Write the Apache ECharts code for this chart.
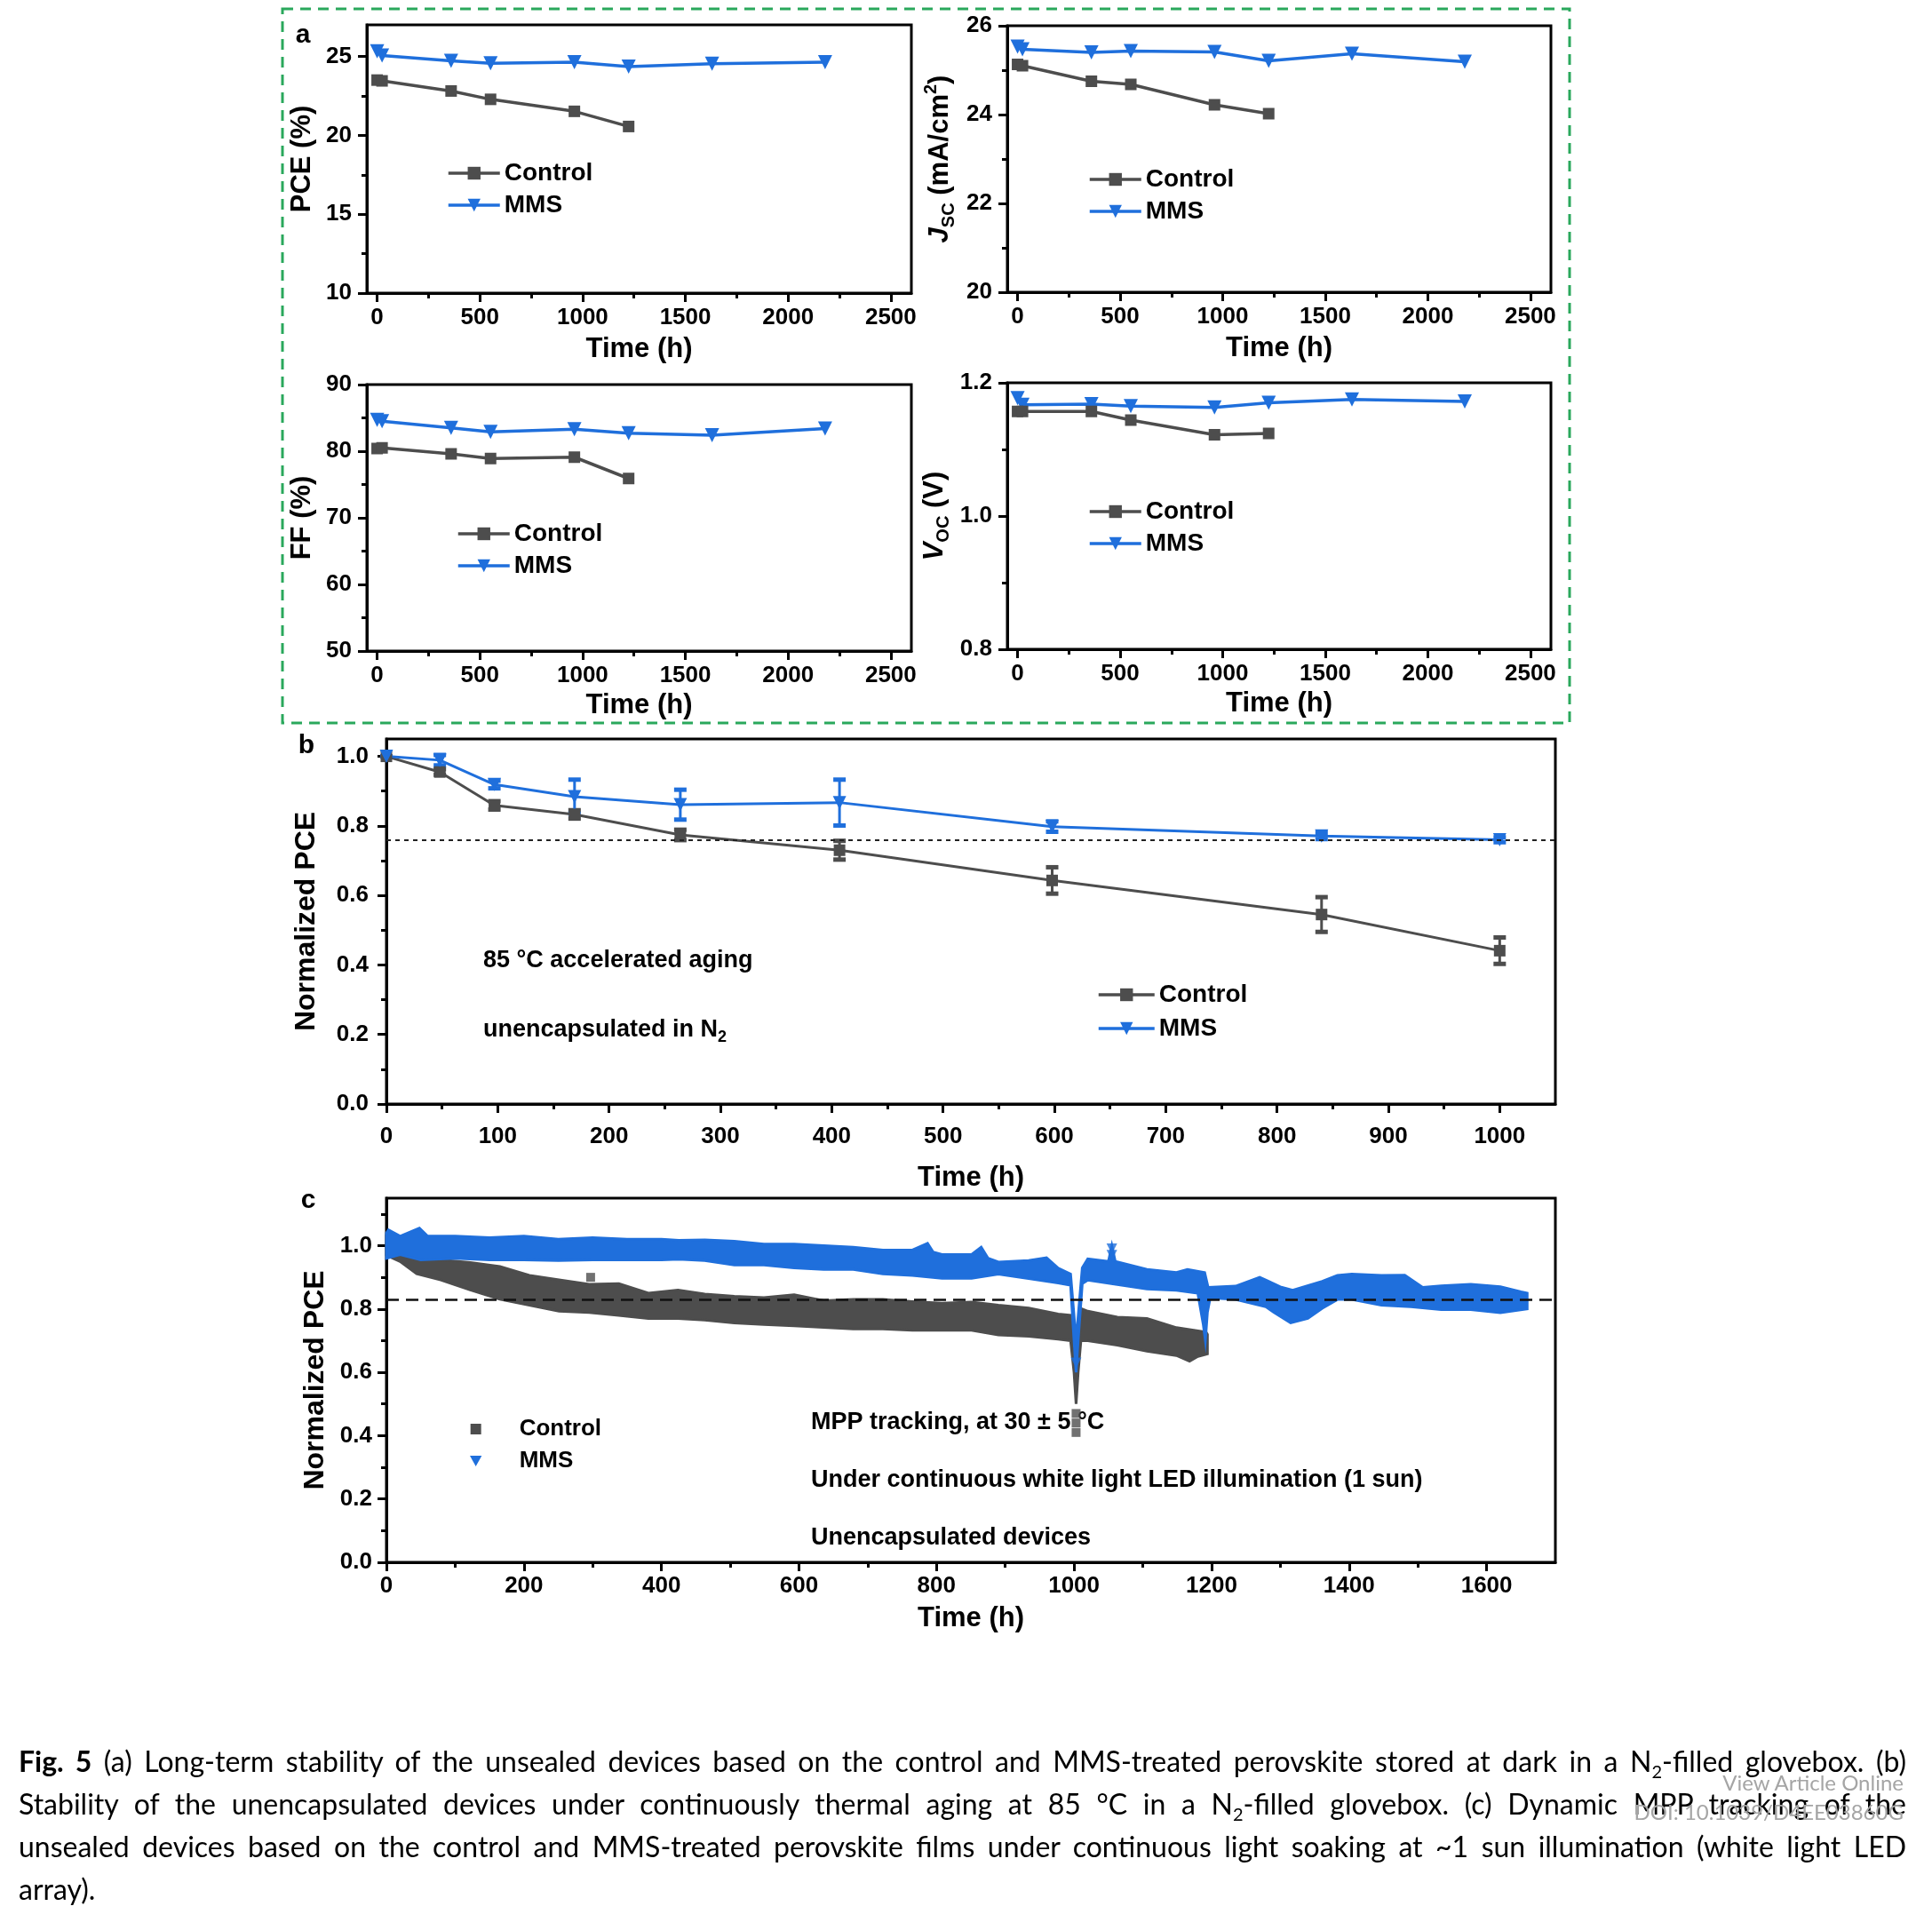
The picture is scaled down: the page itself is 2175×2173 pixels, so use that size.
<!DOCTYPE html>
<html>
<head>
<meta charset="utf-8">
<script src="https://cdn.jsdelivr.net/npm/echarts@6/dist/echarts.min.js"></script>
<style>
html,body{margin:0;padding:0;background:#fff;}
#chart{position:absolute;left:0;top:0;width:2175px;height:2173px;}
#cap{position:absolute;left:21px;top:1959px;width:2125px;font-family:'Lato','Open Sans',sans-serif;font-size:32px;line-height:48px;color:#000;}
#cap .j{text-align:justify;text-align-last:justify;white-space:nowrap;}
#cap sub{font-size:20px;line-height:0;}
.wm{position:absolute;right:32px;font-family:'Lato','Open Sans',sans-serif;font-size:24px;color:#a5a5a5;}
</style>
</head>
<body>
<div id="chart"></div>
<div id="cap">
<div class="j"><b>Fig. 5</b> (a) Long-term stability of the unsealed devices based on the control and MMS-treated perovskite stored at dark in a N<sub>2</sub>-filled glovebox. (b)</div>
<div class="j">Stability of the unencapsulated devices under continuously thermal aging at 85 °C in a N<sub>2</sub>-filled glovebox. (c) Dynamic MPP tracking of the</div>
<div class="j">unsealed devices based on the control and MMS-treated perovskite films under continuous light soaking at ~1 sun illumination (white light LED</div>
<div>array).</div>
</div>
<div class="wm" style="top:1992px;">View Article Online</div>
<div class="wm" style="top:2025px;">DOI: 10.1039/D4EE03860G</div>
<script>
// ---------- Panel a data ----------
const aTime = [0, 24, 360, 552, 960, 1224, 1630, 2180];
const pceControl = [23.50, 23.45, 22.81, 22.28, 21.52, 20.56];
const pceMMS = [25.33, 25.06, 24.72, 24.57, 24.63, 24.35, 24.54, 24.63];
const jscControl = [25.13, 25.10, 24.75, 24.68, 24.22, 24.02];
const jscMMS = [25.53, 25.47, 25.40, 25.43, 25.41, 25.21, 25.37, 25.19];
const ffControl = [80.4, 80.5, 79.6, 78.9, 79.1, 75.9];
const ffMMS = [84.7, 84.5, 83.5, 82.9, 83.3, 82.7, 82.4, 83.4];
const vocControl = [1.157, 1.157, 1.157, 1.144, 1.122, 1.124];
const vocMMS = [1.177, 1.167, 1.168, 1.165, 1.163, 1.170, 1.175, 1.172];
const aTimeTicks = [0, 500, 1000, 1500, 2000, 2500];
const aTimeMinor = [250, 750, 1250, 1750, 2250];
const pceTicks = [10, 15, 20, 25], pceMinor = [12.5, 17.5, 22.5];
const jscTicks = [20, 22, 24, 26], jscMinor = [21, 23, 25];
const ffTicks = [50, 60, 70, 80, 90], ffMinor = [55, 65, 75, 85];
const vocTicks = [0.8, 1.0, 1.2], vocMinor = [0.9, 1.1];

// ---------- Panel b data ----------
const bTime = [0, 48, 97, 169, 264, 407, 598, 840, 1000];
const bControl = [1.0, 0.955, 0.859, 0.833, 0.774, 0.730, 0.643, 0.545, 0.441];
const bControlErr = [0, 0.008, 0.012, 0.012, 0.015, 0.027, 0.038, 0.050, 0.038];
const bMMS = [1.0, 0.989, 0.919, 0.884, 0.861, 0.867, 0.798, 0.771, 0.760];
const bMMSErr = [0, 0.015, 0.011, 0.049, 0.043, 0.066, 0.015, 0.009, 0.007];
const bRef = 0.76;
const bTimeTicks = [0, 100, 200, 300, 400, 500, 600, 700, 800, 900, 1000];
const bTimeMinor = [50, 150, 250, 350, 450, 550, 650, 750, 850, 950];
const normTicks = [0, 0.2, 0.4, 0.6, 0.8, 1.0], normMinor = [0.1, 0.3, 0.5, 0.7, 0.9];

// ---------- Panel c data (envelopes of the dense MPP tracking traces) ----------
const cMMSUpper = [[0,1.04],[3,1.05],[20,1.03],[48,1.055],[60,1.03],[100,1.03],[150,1.025],[200,1.03],[250,1.02],[300,1.025],[350,1.02],[400,1.02],[425,1.017],[463,1.018],[506,1.014],[549,1.005],[593,1.005],[636,1.0],[679,0.995],[722,0.986],[765,0.986],[787,1.007],[795,0.98],[808,0.972],[851,0.972],[865,0.995],[875,0.96],[890,0.948],[934,0.953],[960,0.962],[977,0.929],[995,0.91],[1003,0.70],[1012,0.93],[1020,0.958],[1050,0.95],[1055,1.0],[1060,0.95],[1106,0.925],[1149,0.915],[1165,0.925],[1190,0.915],[1195,0.868],[1235,0.872],[1270,0.90],[1280,0.89],[1300,0.87],[1318,0.859],[1361,0.887],[1383,0.906],[1404,0.91],[1447,0.906],[1481,0.907],[1507,0.868],[1534,0.873],[1577,0.878],[1620,0.87],[1650,0.854],[1659,0.85]];
const cMMSLower = [[0,0.96],[20,0.972],[50,0.955],[100,0.96],[150,0.955],[200,0.955],[250,0.953],[300,0.955],[350,0.955],[400,0.955],[425,0.957],[463,0.953],[506,0.939],[549,0.939],[593,0.93],[636,0.925],[679,0.925],[722,0.911],[765,0.906],[808,0.897],[851,0.897],[890,0.91],[934,0.896],[977,0.882],[995,0.875],[1000,0.70],[1003,0.60],[1006,0.70],[1012,0.88],[1020,0.891],[1063,0.877],[1106,0.863],[1149,0.859],[1180,0.85],[1188,0.75],[1191,0.70],[1194,0.79],[1198,0.835],[1235,0.83],[1279,0.807],[1290,0.79],[1315,0.756],[1340,0.77],[1361,0.802],[1383,0.83],[1404,0.83],[1447,0.812],[1490,0.807],[1534,0.798],[1577,0.798],[1620,0.788],[1659,0.80]];
const cControlUpper = [[0,1.02],[10,0.98],[20,0.975],[44,0.965],[79,0.955],[122,0.947],[165,0.934],[208,0.906],[251,0.892],[295,0.878],[338,0.88],[381,0.85],[424,0.86],[463,0.847],[506,0.84],[549,0.836],[593,0.845],[636,0.826],[679,0.83],[722,0.83],[765,0.823],[808,0.818],[851,0.822],[890,0.812],[934,0.803],[977,0.784],[995,0.78],[1000,0.70],[1003,0.52],[1007,0.70],[1012,0.80],[1020,0.793],[1063,0.774],[1106,0.77],[1149,0.741],[1192,0.727],[1194,0.72]];
const cControlLower = [[0,0.97],[20,0.95],[44,0.911],[79,0.892],[122,0.86],[165,0.831],[208,0.812],[251,0.793],[295,0.789],[338,0.78],[381,0.77],[424,0.77],[463,0.765],[506,0.756],[549,0.751],[593,0.747],[636,0.742],[679,0.737],[722,0.737],[765,0.733],[851,0.733],[890,0.718],[934,0.714],[977,0.705],[995,0.70],[1000,0.60],[1003,0.50],[1006,0.60],[1010,0.70],[1020,0.70],[1063,0.686],[1106,0.667],[1149,0.653],[1168,0.635],[1180,0.65],[1194,0.658]];
const cControlOutliers = [[297,0.90],[1003,0.47],[1003,0.44],[1003,0.41]];
const cMMSOutliers = [[1055,0.99],[1055,0.97],[1003,0.63]];
const cRef = 0.828;
const cTimeTicks = [0, 200, 400, 600, 800, 1000, 1200, 1400, 1600];
const cTimeMinor = [100, 300, 500, 700, 900, 1100, 1300, 1500];
const cNormMinor = [0.1, 0.3, 0.5, 0.7, 0.9, 1.1];

// ---------- styles ----------
const GRAY = '#4d4d4d', BLUE = '#1f6fdc';
const F = "'Liberation Sans', Arial, sans-serif";
const grids = [], xAxes = [], yAxes = [], series = [], legends = [];

function addGrid(left, top, width, height) {
  grids.push({left, top, width, height, show: true, borderColor: '#000', borderWidth: 3, backgroundColor: 'transparent'});
  return grids.length - 1;
}
function addAxis(kind, gi, min, max, ticks, minor, o) {
  const arr = kind === 'x' ? xAxes : yAxes;
  const pos = kind === 'x' ? 'bottom' : 'left';
  arr.push({
    type: 'value', gridIndex: gi, min, max, position: pos,
    axisLine: {show: true, onZero: false, lineStyle: {color: '#000', width: 3}},
    axisTick: {show: true, customValues: ticks, length: 10, lineStyle: {color: '#000', width: 3}},
    axisLabel: {show: true, customValues: ticks, formatter: o.fmt, fontFamily: F, fontWeight: 'bold', fontSize: o.fs || 26, color: '#000', margin: o.margin},
    splitLine: {show: false},
    name: o.name, nameLocation: 'middle', nameGap: o.gap, nameRotate: kind === 'y' ? 90 : 0,
    nameTextStyle: {fontFamily: F, fontWeight: 'bold', fontSize: o.nfs || 31, color: '#000', rich: o.rich}
  });
  const idx = arr.length - 1;
  arr.push({
    type: 'value', gridIndex: gi, min, max, position: pos,
    axisLine: {show: false, onZero: false},
    axisTick: {show: true, customValues: minor, length: 6, lineStyle: {color: '#000', width: 3}},
    axisLabel: {show: false}, splitLine: {show: false}
  });
  return idx;
}
const zip = (xs, ys) => ys.map((v, i) => [xs[i], v]);
function lineSeries(name, xs, ys, color, xi, yi, sym, size, lw) {
  return {
    type: 'line', name, xAxisIndex: xi, yAxisIndex: yi, data: zip(xs, ys),
    symbol: sym === 'tri' ? 'triangle' : 'rect', symbolRotate: sym === 'tri' ? 180 : 0,
    symbolSize: size, showAllSymbol: true,
    lineStyle: {color, width: lw}, itemStyle: {color}, z: 3
  };
}
const richSub = {
  i: {fontFamily: F, fontWeight: 'bold', fontStyle: 'italic', fontSize: 31, lineHeight: 40, color: '#000'},
  s: {fontFamily: F, fontWeight: 'bold', fontSize: 20, lineHeight: 20, verticalAlign: 'bottom', color: '#000'},
  p: {fontFamily: F, fontWeight: 'bold', fontSize: 20, lineHeight: 20, verticalAlign: 'top', color: '#000'},
  n: {fontFamily: F, fontWeight: 'bold', fontSize: 31, lineHeight: 40, color: '#000'}
};
function legendAt(left, top, iw, gap) {
  legends.push({
    left, top, orient: 'vertical', itemWidth: iw || 58, itemHeight: 18, itemGap: gap == null ? 8 : gap,
    selectedMode: false,
    data: [
      {name: 'Control', itemStyle: {color: GRAY}, lineStyle: {color: GRAY, width: 3.5}},
      {name: 'MMS', itemStyle: {color: BLUE}, lineStyle: {color: BLUE, width: 3.5}}
    ],
    lineStyle: {width: 3.5},
    textStyle: {fontFamily: F, fontWeight: 'bold', fontSize: 28, color: '#000', lineHeight: 28}
  });
}
const f1 = v => v.toFixed(1);
const f0 = v => String(v);

// ---------- Panel a ----------
function panelA(left, top, w, h, ymin, ymax, yt, ym, yname, yrich, ygap, cData, mData, legLeft, legTop, xgap) {
  const gi = addGrid(left, top, w, h);
  const xi = addAxis('x', gi, -50, 2600, aTimeTicks, aTimeMinor, {fmt: f0, margin: 15, name: 'Time (h)', gap: xgap});
  const yi = addAxis('y', gi, ymin, ymax, yt, ym, {fmt: ymax < 2 ? f1 : f0, margin: 17, name: yname, gap: ygap, rich: yrich});
  series.push(lineSeries('MMS', aTime, mData, BLUE, xi, yi, 'tri', 16, 3.5));
  series.push(lineSeries('Control', aTime, cData, GRAY, xi, yi, 'rect', 13, 3.5));
  legendAt(legLeft, legTop);
}
panelA(413, 28, 613, 302, 10, 27, pceTicks, pceMinor, 'PCE (%)', null, 57, pceControl, pceMMS, 498, 176, 48);
panelA(1134, 29, 612, 300, 20, 26, jscTicks, jscMinor, '{i|J}{s|SC}{n| (mA/cm}{p|2}{n|)}', richSub, 56, jscControl, jscMMS, 1220, 183, 48);
panelA(413, 433, 613, 300, 50, 90, ffTicks, ffMinor, 'FF (%)', null, 57, ffControl, ffMMS, 509, 582, 46);
panelA(1134, 431, 612, 300, 0.8, 1.2, vocTicks, vocMinor, '{i|V}{s|OC}{n| (V)}', richSub, 62, vocControl, vocMMS, 1220, 557, 46);

// ---------- Panel b ----------
(function () {
  const gi = addGrid(435, 832, 1316, 411);
  const xi = addAxis('x', gi, 0, 1050, bTimeTicks, bTimeMinor, {fmt: f0, margin: 24, name: 'Time (h)', gap: 68});
  const yi = addAxis('y', gi, 0, 1.05, normTicks, normMinor, {fmt: f1, margin: 20, name: 'Normalized PCE', gap: 74, nfs: 32});
  function errSeries(name, ys, errs, color) {
    return {
      type: 'custom', name, xAxisIndex: xi, yAxisIndex: yi, z: 2,
      data: bTime.map((t, i) => [t, ys[i] - errs[i], ys[i] + errs[i]]),
      encode: {x: 0, y: [1, 2]},
      renderItem: (params, api) => {
        const lo = api.coord([api.value(0), api.value(1)]);
        const hi = api.coord([api.value(0), api.value(2)]);
        const w = 7;
        return {type: 'group', children: [
          {type: 'line', shape: {x1: lo[0], y1: lo[1], x2: hi[0], y2: hi[1]}, style: {stroke: color, lineWidth: 3}},
          {type: 'line', shape: {x1: lo[0] - w, y1: lo[1], x2: lo[0] + w, y2: lo[1]}, style: {stroke: color, lineWidth: 5}},
          {type: 'line', shape: {x1: hi[0] - w, y1: hi[1], x2: hi[0] + w, y2: hi[1]}, style: {stroke: color, lineWidth: 5}}
        ]};
      }
    };
  }
  series.push(errSeries('Control err', bControl, bControlErr, GRAY));
  series.push(errSeries('MMS err', bMMS, bMMSErr, BLUE));
  const sc = lineSeries('Control', bTime, bControl, GRAY, xi, yi, 'rect', 13, 3);
  series.push(sc);
  const sm = lineSeries('MMS', bTime, bMMS, BLUE, xi, yi, 'tri', 15, 3);
  sm.markLine = {silent: true, symbol: 'none', label: {show: false}, animation: false,
    lineStyle: {type: [5, 5], color: '#222', width: 2}, data: [{yAxis: bRef}]};
  series.push(sm);
  legendAt(1230, 1101, 63, 10);
})();

// ---------- Panel c ----------
(function () {
  const gi = addGrid(435, 1349, 1316, 410);
  const xi = addAxis('x', gi, 0, 1700, cTimeTicks, cTimeMinor, {fmt: f0, margin: 14, name: 'Time (h)', gap: 48});
  const yi = addAxis('y', gi, 0, 1.15, normTicks, cNormMinor, {fmt: f1, margin: 16, name: 'Normalized PCE', gap: 64, nfs: 32});
  function band(name, upper, lower, color, z) {
    return {
      type: 'custom', name, xAxisIndex: xi, yAxisIndex: yi, z, itemStyle: {color},
      data: [[upper[0][0], upper[0][1]]],
      renderItem: (params, api) => {
        const pts = upper.map(p => api.coord(p)).concat(lower.slice().reverse().map(p => api.coord(p)));
        return {type: 'polygon', shape: {points: pts}, style: {fill: color, stroke: color, lineWidth: 3, lineJoin: 'miter'}};
      }
    };
  }
  series.push(band('Control ', cControlUpper, cControlLower, GRAY, 2));
  series.push({type: 'scatter', name: 'Control ', xAxisIndex: xi, yAxisIndex: yi, data: cControlOutliers,
    symbol: 'rect', symbolSize: 10, itemStyle: {color: GRAY}, z: 2});
  series.push(band('MMS ', cMMSUpper, cMMSLower, BLUE, 3));
  series.push({type: 'scatter', name: 'MMS ', xAxisIndex: xi, yAxisIndex: yi, data: cMMSOutliers,
    symbol: 'triangle', symbolRotate: 180, symbolSize: 12, itemStyle: {color: BLUE}, z: 3,
    markLine: {silent: true, symbol: 'none', label: {show: false}, animation: false, z: 10,
      lineStyle: {type: [14, 8], color: '#111', width: 2.5}, data: [{yAxis: cRef}]}});
  legends.push({
    left: 524, top: 1591, orient: 'vertical', itemWidth: 40, itemHeight: 12, itemGap: 10, selectedMode: false,
    data: [
      {name: 'Control ', icon: 'path://M0,0L10,0L10,10L0,10Z', itemStyle: {color: GRAY}},
      {name: 'MMS ', icon: 'path://M0,0L10,0L5,9Z', itemStyle: {color: BLUE}}
    ],
    textStyle: {fontFamily: F, fontWeight: 'bold', fontSize: 26, color: '#000', lineHeight: 26, padding: [0, 0, 0, 24]}
  });
})();

// ---------- graphic: frame, panel letters, annotations ----------
const T = (x, y, text, o) => Object.assign({
  type: 'text', x, y,
  style: Object.assign({text, fontFamily: F, fontWeight: 'bold', fontSize: 27, fill: '#000', textAlign: 'left', textVerticalAlign: 'middle'}, o || {})
});
const graphic = [
  {type: 'rect', shape: {x: 318, y: 10, width: 1449, height: 804}, style: {fill: null, stroke: '#2aa85c', lineWidth: 3, lineDash: [12, 8]}, z: 0},
  T(341, 40, 'a', {fontSize: 30, textAlign: 'center'}),
  T(345, 840, 'b', {fontSize: 30, textAlign: 'center'}),
  T(347, 1352, 'c', {fontSize: 30, textAlign: 'center'}),
  T(544, 1082, '85 °C accelerated aging'),
  T(544, 1160, 'unencapsulated in N{s|2}', {rich: {s: {fontFamily: F, fontWeight: 'bold', fontSize: 18, lineHeight: 18, verticalAlign: 'bottom', fill: '#000'}}, lineHeight: 34}),
  T(913, 1602, 'MPP tracking, at 30 ± 5 °C'),
  T(913, 1667, 'Under continuous white light LED illumination (1 sun)'),
  T(913, 1732, 'Unencapsulated devices')
];

const chart = echarts.init(document.getElementById('chart'), null, {renderer: 'canvas'});
chart.setOption({
  animation: false,
  backgroundColor: '#fff',
  grid: grids, xAxis: xAxes, yAxis: yAxes, series, legend: legends, graphic
});
</script>
</body>
</html>
